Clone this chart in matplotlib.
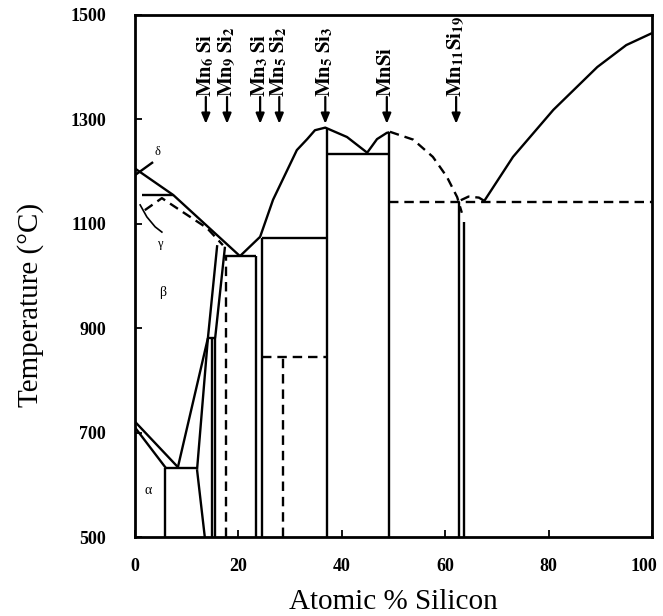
import matplotlib.pyplot as plt
import matplotlib.transforms as mtransforms

plt.rcParams['font.family'] = 'Liberation Serif'
plt.rcParams['mathtext.fontset'] = 'stix'

# phase boundaries: (atomic % Si, temperature in C)
liq_mn_x = [0, 0.4, 7.4, 20.3]
liq_mn_t = [1206, 1203, 1155, 1038]
liq_mid_x = [20.3, 24.2, 26.7, 31.3, 33.3, 34.8, 36.8, 41.0, 44.9, 46.8, 48.7, 49.2]
liq_mid_t = [1038, 1075, 1146, 1241, 1262, 1279, 1284, 1266, 1236, 1262, 1274, 1275]
liq_mnsi_x = [49.3, 53.8, 57.6, 60.3, 62.3, 63.2]
liq_mnsi_t = [1276, 1261, 1228, 1190, 1151, 1121]
liq_si_x = [67.5, 73.1, 80.9, 89.4, 95.0, 100]
liq_si_t = [1143, 1228, 1318, 1400, 1442, 1465]
bump_x = [63.0, 64.5, 66.5, 67.5]
bump_t = [1145, 1152, 1150, 1144]

sol_beta_x = [1.9, 5.2, 9.3, 13.9, 17.0]
sol_beta_t = [1126, 1149, 1122, 1092, 1059]
delta_x = [0, 3.5]
delta_t = [1193, 1218]
gamma_x = [1.0, 2.3, 3.9, 5.2]
gamma_t = [1136, 1113, 1094, 1084]
ab_upper_x = [0, 8.3]
ab_upper_t = [721, 634]
ab_lower_x = [0, 6.0]
ab_lower_t = [710, 632]
beta_r_x = [8.3, 14.1]
beta_r_t = [634, 881]
beta_l_x = [12.0, 14.1]
beta_l_t = [629, 881]
nu_left_x = [14.1, 15.9]
nu_left_t = [881, 1059]
nu_right_x = [15.5, 17.4]
nu_right_t = [881, 1056]

# horizontal invariants: (temperature, x from, x to, dashed)
invariants = [(1155, 1.4, 7.4, False), (632, 6.0, 12.0, False), (881, 14.1, 15.5, False),
              (1038, 17.4, 23.4, False), (1073, 24.6, 37.1, False), (845, 24.6, 37.1, True),
              (1234, 37.1, 49.2, False), (1142, 49.2, 100, True)]
# vertical phase lines: (x, t from, t to, dashed)
verticals = [(5.8, 500, 632, False), (14.9, 500, 881, False), (15.5, 500, 881, False),
             (17.6, 500, 1038, True), (23.4, 500, 1038, False), (24.6, 500, 1073, False),
             (28.6, 500, 845, True), (37.1, 500, 1284, False), (49.2, 500, 1275, False),
             (62.7, 500, 1142, False), (63.6, 500, 1104, False)]
slant_x = [12.0, 13.5]
slant_t = [629, 500]

compounds = [r'$\mathbf{Mn}_{\mathbf{6}}\;\mathbf{Si}$',
             r'$\mathbf{Mn}_{\mathbf{9}}\;\mathbf{Si}_{\mathbf{2}}$',
             r'$\mathbf{Mn}_{\mathbf{3}}\;\mathbf{Si}$',
             r'$\mathbf{Mn}_{\mathbf{5}}\;\mathbf{Si}_{\mathbf{2}}$',
             r'$\mathbf{Mn}_{\mathbf{5}}\;\mathbf{Si}_{\mathbf{3}}$',
             r'$\mathbf{MnSi}$',
             r'$\mathbf{Mn}_{\mathbf{11}}\mathbf{Si}_{\mathbf{19}}$']
compound_x = [13.7, 17.8, 24.2, 27.9, 36.8, 48.7, 62.1]

fig = plt.figure(figsize=(6.63, 6.16), dpi=100)
ax = fig.add_axes([0.2036, 0.128, 0.78, 0.848])
lw = 1.7
dash = (0, (4, 2.5))
solid = dict(color='k', lw=lw, solid_capstyle='butt')
dashed = dict(color='k', lw=lw, linestyle=dash)

ax.plot(liq_mn_x, liq_mn_t, **solid)
ax.plot(liq_mid_x, liq_mid_t, **solid)
ax.plot(liq_mnsi_x, liq_mnsi_t, **dashed)
ax.plot(liq_si_x, liq_si_t, **solid)
ax.plot(bump_x, bump_t, **dashed)
ax.plot(sol_beta_x, sol_beta_t, **dashed)
ax.plot(delta_x, delta_t, **solid)
ax.plot(gamma_x, gamma_t, color='k', lw=1.2)
for xs, ts in [(ab_upper_x, ab_upper_t), (ab_lower_x, ab_lower_t), (beta_r_x, beta_r_t),
               (beta_l_x, beta_l_t), (nu_left_x, nu_left_t), (nu_right_x, nu_right_t),
               (slant_x, slant_t)]:
    ax.plot(xs, ts, **solid)
for t, x0, x1, d in invariants:
    ax.plot([x0, x1], [t, t], **(dashed if d else solid))
for x, t0, t1, d in verticals:
    ax.plot([x, x], [t0, t1], **(dashed if d else solid))

for name, x in zip(compounds, compound_x):
    ax.annotate('', xy=(x, 1286), xytext=(x, 1348),
                arrowprops=dict(arrowstyle='-|>,head_length=0.6,head_width=0.25', lw=1.6, color='k'))
    ax.text(x, 1343, name, rotation=90, ha='center', va='bottom', fontsize=15)

ax.text(4.4, 1237, '\u03b4', fontsize=9, ha='center', va='center')
ax.text(4.8, 1062, '\u03b3', fontsize=9, ha='center', va='center')
ax.text(5.4, 969, '\u03b2', fontsize=10, ha='center', va='center')
ax.text(2.5, 590, '\u03b1', fontsize=10, ha='center', va='center')

ax.set_xlim(0, 100)
ax.set_ylim(500, 1500)
ax.set_xticks([0, 20, 40, 60, 80, 100])
ax.set_yticks([500, 700, 900, 1100, 1300, 1500])
ax.tick_params(direction='in', length=5, width=1.3, labelsize=13)
ax.tick_params(axis='x', pad=15)
ax.tick_params(axis='y', pad=21)
for lab in ax.get_xticklabels() + ax.get_yticklabels():
    lab.set_fontweight('bold')
# the "100" label sits a little left of its tick in the original
last = ax.get_xticklabels()[-1]
last.set_transform(last.get_transform() + mtransforms.ScaledTranslation(-0.08, 0, fig.dpi_scale_trans))
for s in ax.spines.values():
    s.set_linewidth(2)
ax.set_xlabel('Atomic % Silicon', fontsize=21)
ax.set_ylabel('Temperature (\u00b0C)', fontsize=21)
ax.xaxis.set_label_coords(0.5, -0.10)
ax.yaxis.set_label_coords(-0.175, 0.444)

fig.savefig('out.png', dpi=100)
